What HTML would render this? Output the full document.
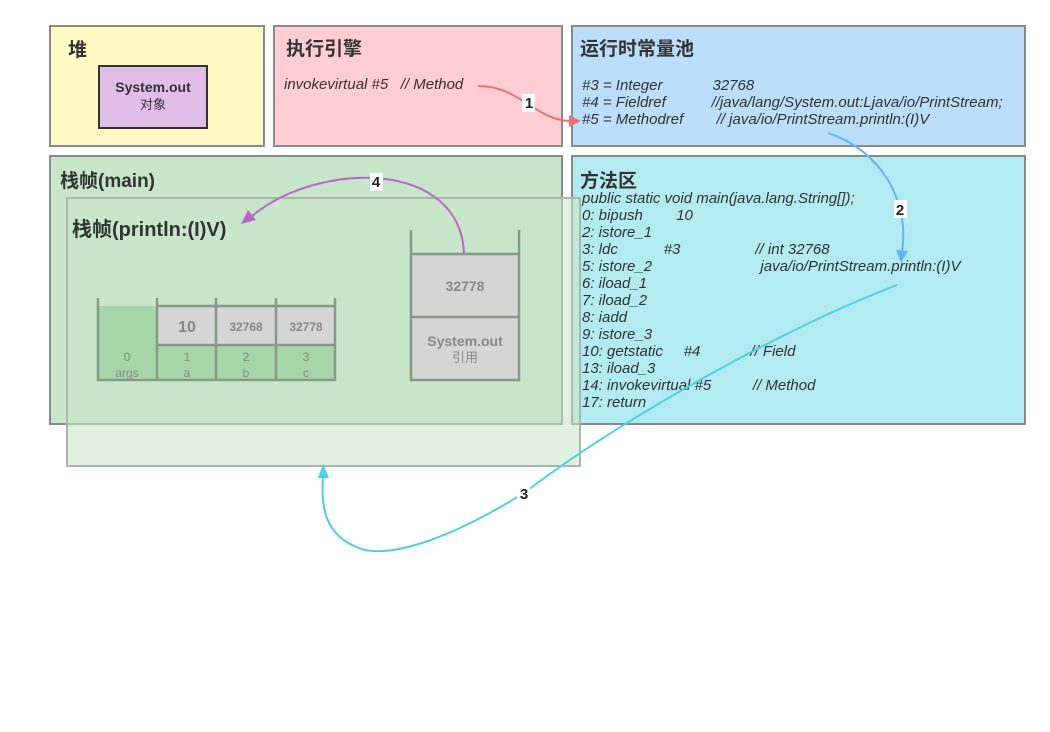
<!DOCTYPE html>
<html><head><meta charset="utf-8"><style>
body{margin:0;width:1050px;height:732px;background:#fff;position:relative;overflow:hidden;font-family:"Liberation Sans","Noto Sans CJK SC",sans-serif;}
.b{position:absolute;box-sizing:border-box;border:2px solid #8a8a8a;}
.t{position:absolute;font-weight:bold;font-size:19px;color:#333;white-space:nowrap;}
.c{position:absolute;font-style:italic;font-size:15px;color:#333;white-space:pre;line-height:17px;}
.g{position:absolute;box-sizing:border-box;}
</style></head><body>
<div class="b" style="left:49px;top:25px;width:216px;height:122px;background:#fff9c4"></div>
<div class="t" style="left:68px;top:35px">堆</div>
<div class="g" style="left:98px;top:65px;width:110px;height:64px;background:#e1bee7;border:2px solid #333;text-align:center;font-size:14px;font-weight:bold;color:#333;padding-top:12px;line-height:17px">System.out<br><span style="font-weight:normal;font-size:13px">对象</span></div>

<div class="b" style="left:273px;top:25px;width:290px;height:122px;background:#ffcdd2"></div>
<div class="t" style="left:286px;top:34px">执行引擎</div>
<div class="c" style="left:284px;top:76px">invokevirtual #5   // Method</div>

<div class="b" style="left:571px;top:25px;width:455px;height:122px;background:#bbdefb"></div>
<div class="t" style="left:580px;top:34px">运行时常量池</div>
<div class="c" style="left:582px;top:77px">#3 = Integer            32768
#4 = Fieldref           //java/lang/System.out:Ljava/io/PrintStream;
#5 = Methodref        // java/io/PrintStream.println:(I)V</div>

<div class="b" style="left:49px;top:155px;width:514px;height:270px;background:#c8e6c9"></div>
<div class="t" style="left:60px;top:166px">栈帧(main)</div>

<div class="b" style="left:571px;top:155px;width:455px;height:270px;background:#b2ebf2"></div>
<div class="t" style="left:580px;top:166px">方法区</div>
<div class="c" style="left:582px;top:190px">public static void main(java.lang.String[]);
0: bipush        10
2: istore_1
3: ldc           #3                  // int 32768
5: istore_2                          java/io/PrintStream.println:(I)V
6: iload_1
7: iload_2
8: iadd
9: istore_3
10: getstatic     #4            // Field
13: iload_3
14: invokevirtual #5          // Method
17: return</div>

<div class="g" style="left:66px;top:197px;width:515px;height:270px;background:rgba(200,230,201,0.55);border:2px solid #a8b8a8"></div>
<div class="t" style="left:72px;top:213px;font-size:20px">栈帧(println:(I)V)</div>

<svg width="1050" height="732" style="position:absolute;left:0;top:0">
<g stroke="#889988" stroke-width="2.5" fill="none">
<rect x="98" y="306" width="59" height="74" fill="#a5d6a7" stroke="none"/>
<rect x="157" y="306" width="178" height="39" fill="#d5d5d5" stroke="none"/>
<rect x="157" y="345" width="178" height="35" fill="#a5d6a7" stroke="none"/>
<path d="M98 298V380H335V298M157 298V380M216 298V380M276 298V380M157 306H335M157 345H335"/>
<rect x="411" y="254" width="108" height="127" fill="#d5d5d5" stroke="none"/>
<path d="M411 230V380H519V230M411 254H519M411 317H519"/>
</g>
<g font-family="Liberation Sans,Noto Sans CJK SC,sans-serif" fill="#888" text-anchor="middle">
<text x="187" y="332" font-size="16" font-weight="bold">10</text>
<text x="246" y="331" font-size="12" font-weight="bold">32768</text>
<text x="306" y="331" font-size="12" font-weight="bold">32778</text>
<text x="465" y="291" font-size="14" font-weight="bold">32778</text>
<text x="465" y="346" font-size="14" font-weight="bold">System.out</text>
<text x="465" y="362" font-size="13">引用</text>
<g font-size="12"><text x="127" y="361">0</text><text x="127" y="377">args</text>
<text x="187" y="361">1</text><text x="187" y="377">a</text>
<text x="246" y="361">2</text><text x="246" y="377">b</text>
<text x="306" y="361">3</text><text x="306" y="377">c</text></g>
</g>
<path d="M478 86C520 86 535 120 570 121" stroke="#e57373" stroke-width="2" fill="none"/>
<path d="M581 121L569 115L569 127Z" fill="#e57373"/>
<path d="M828 133C880 150 910 200 902 252" stroke="#64b5f6" stroke-width="2" fill="none"/>
<path d="M901 263L896 250L908 251Z" fill="#64b5f6"/>
<path d="M897 285C780 330 620 420 524 493C440 545 390 555 365 550C330 540 320 515 323 478" stroke="#4dd0e1" stroke-width="2" fill="none"/>
<path d="M323 464L318 478L329 478Z" fill="#4dd0e1"/>
<path d="M464 253C460 160 320 160 252 216" stroke="#ba68c8" stroke-width="2" fill="none"/>
<path d="M241 224L248 210L256 220Z" fill="#ba68c8"/>
<g font-family="Liberation Sans,sans-serif" font-weight="bold" font-size="15" text-anchor="middle" fill="#222">
<rect x="522" y="94" width="13" height="18" fill="#fff"/><text x="529" y="108">1</text>
<rect x="894" y="200" width="13" height="18" fill="#fff"/><text x="900" y="215">2</text>
<rect x="517" y="484" width="13" height="18" fill="#fff"/><text x="524" y="499">3</text>
<rect x="370" y="173" width="13" height="18" fill="#fff"/><text x="376" y="187">4</text>
</g>
</svg>
</body></html>
